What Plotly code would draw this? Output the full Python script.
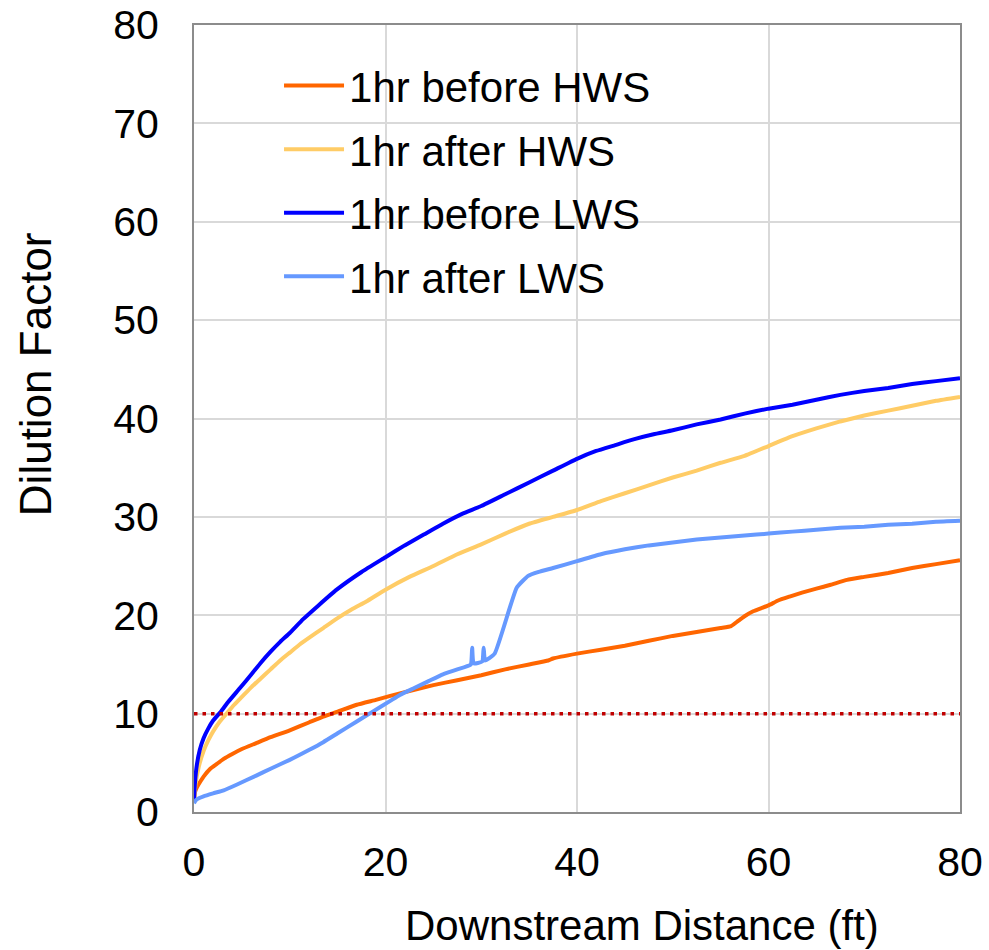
import plotly.graph_objects as go

# ---- data ----
hws_before_x = [0, 0.1, 0.3, 0.6, 1.0, 1.7, 2.4, 3.1, 4.0, 5.0, 6.5, 8.0, 10, 12, 13.5, 15, 17, 19, 20.5, 22.5,
                25, 27.5, 30, 32.5, 35, 37.0, 37.5, 40, 42.5, 45, 47.5, 50, 52.5, 55, 56.1, 56.8, 57.5, 58.4,
                60, 61, 62.2, 63.5, 65, 66.5, 68.2, 70, 72.5, 75, 77.5, 80]
hws_before_y = [1.0, 2.0, 2.5, 3.0, 3.6, 4.4, 4.9, 5.4, 5.9, 6.4, 7.0, 7.6, 8.3, 9.1, 9.7, 10.2, 10.9, 11.4, 11.8, 12.3,
                12.9, 13.4, 13.9, 14.5, 15.0, 15.4, 15.6, 16.1, 16.5, 16.9, 17.4, 17.9, 18.3, 18.7, 18.9, 19.4, 19.9, 20.4,
                21.0, 21.5, 21.9, 22.3, 22.7, 23.1, 23.6, 23.9, 24.3, 24.8, 25.2, 25.6]

hws_after_x = [0, 0.15, 0.5, 1.0, 1.5, 2.0, 2.7, 3.4, 4.2, 5.0, 6.0, 7.0, 8.0, 9.0, 10, 11, 12, 13.5, 15, 16.5,
               18, 20, 22.5, 25, 27.5, 30, 32.5, 35, 37.5, 40, 42.5, 45, 47.5, 50, 52.5, 55, 57.5, 60, 62.5,
               65, 67.5, 70, 72.5, 75, 77.5, 80]
hws_after_y = [1.2, 2.8, 4.6, 6.2, 7.3, 8.2, 9.2, 10.0, 10.9, 11.7, 12.7, 13.6, 14.5, 15.4, 16.2, 17.0, 17.7, 18.7, 19.7, 20.6,
               21.4, 22.6, 23.9, 25.0, 26.2, 27.2, 28.3, 29.3, 30.0, 30.7, 31.6, 32.4, 33.2, 34.0, 34.7, 35.5, 36.2, 37.2, 38.2,
               39.0, 39.7, 40.3, 40.8, 41.3, 41.8, 42.2]

lws_before_x = [0, 0.1, 0.3, 0.6, 1.0, 1.5, 2.0, 2.8, 3.5, 4.8, 6.0, 7.0, 8.0, 9.0, 10.0, 11.4, 13.0, 14.9, 17.5,
                20.0, 22.0, 24.0, 26.0, 28.0, 30.0, 32.5, 35.0, 37.5, 40.0, 42.0, 44.0, 46.0, 48.0, 50.0, 52.5,
                55.0, 57.5, 60.0, 62.5, 65.0, 67.5, 70.0, 72.5, 75.0, 77.5, 80.0]
lws_before_y = [1.2, 3.0, 4.8, 6.3, 7.5, 8.5, 9.3, 10.2, 11.1, 12.6, 14.0, 15.2, 16.3, 17.3, 18.2, 19.6, 21.0, 22.6, 24.4,
                25.9, 27.1, 28.2, 29.3, 30.3, 31.1, 32.3, 33.5, 34.7, 35.9, 36.7, 37.3, 37.9, 38.4, 38.8, 39.4,
                39.9, 40.5, 41.0, 41.4, 41.9, 42.4, 42.8, 43.1, 43.5, 43.8, 44.1]

lws_after_x = [0, 0.2, 0.5, 1.0, 2.0, 3.1, 4.5, 6.5, 8.0, 10, 12, 13.5, 15, 17, 18.5, 20.5, 21.5, 23, 24.5, 26,
               27.5, 28.9, 29.05, 29.2, 30.1, 30.25, 30.4, 31.4, 33.7, 34.9, 36, 37.5, 40, 42.5, 45, 47.5, 50,
               52.5, 55, 57.5, 60, 62.5, 65, 67.5, 70, 72.5, 75, 77.5, 80]
lws_after_y = [0.9, 1.2, 1.4, 1.6, 1.9, 2.2, 2.8, 3.7, 4.4, 5.3, 6.3, 7.1, 8.0, 9.2, 10.1, 11.3, 11.9, 12.6, 13.3, 14.0,
               14.5, 15.0, 16.7, 15.1, 15.3, 16.7, 15.4, 16.1, 22.8, 24.0, 24.4, 24.8, 25.5, 26.2, 26.7, 27.1, 27.4,
               27.7, 27.9, 28.1, 28.3, 28.5, 28.7, 28.9, 29.0, 29.2, 29.3, 29.5, 29.6]

threshold_x = [0, 80]
threshold_y = [10, 10]

series = [
    ("1hr before HWS", hws_before_x, hws_before_y, "#FF6600"),
    ("1hr after HWS", hws_after_x, hws_after_y, "#FFCC66"),
    ("1hr before LWS", lws_before_x, lws_before_y, "#0000FF"),
    ("1hr after LWS", lws_after_x, lws_after_y, "#6699FF"),
]

FONT = "Liberation Sans, Arial, sans-serif"

fig = go.Figure()
for i, (name, xs, ys, col) in enumerate(series):
    fig.add_trace(go.Scatter(x=xs, y=ys, mode="lines", name=name, legendgroup=f"g{i}",
                             line=dict(color=col, width=4, shape="spline", smoothing=0.4)))

fig.add_trace(go.Scatter(x=threshold_x, y=threshold_y, mode="lines", showlegend=False,
                         line=dict(color="#C00000", width=3.5, dash="3.5px,5px")))

axis_common = dict(
    showline=True, mirror=True, linecolor="#8C8C8C", linewidth=2,
    showgrid=True, gridcolor="#D9D9D9", gridwidth=1.5,
    zeroline=False, ticks="", automargin=False,
    tickfont=dict(family=FONT, size=41, color="black"),
)

fig.update_layout(
    width=989, height=950, autosize=False,
    margin=dict(l=194, r=29, t=25, b=138),
    paper_bgcolor="white", plot_bgcolor="white",
    font=dict(family=FONT, size=40, color="black"),
    xaxis=dict(range=[0, 80], dtick=20, tick0=0, ticklabelstandoff=13, **axis_common),
    yaxis=dict(range=[0, 80], dtick=10, tick0=0, ticklabelstandoff=25, **axis_common),
    legend=dict(x=0.111, y=0.966, xanchor="left", yanchor="top", bgcolor="rgba(0,0,0,0)",
                font=dict(family=FONT, size=42, color="black"), tracegroupgap=6, itemwidth=60),
    showlegend=True,
    annotations=[
        dict(text="Downstream Distance (ft)", xref="paper", yref="paper", x=0.585, y=-0.1436,
             xanchor="center", yanchor="middle", showarrow=False,
             font=dict(family=FONT, size=42, color="black")),
        dict(text="Dilution Factor", xref="paper", yref="paper", x=-0.206, y=0.5566,
             xanchor="center", yanchor="middle", showarrow=False, textangle=-90,
             font=dict(family=FONT, size=44, color="black")),
    ],
)

fig.write_html("out.html")
